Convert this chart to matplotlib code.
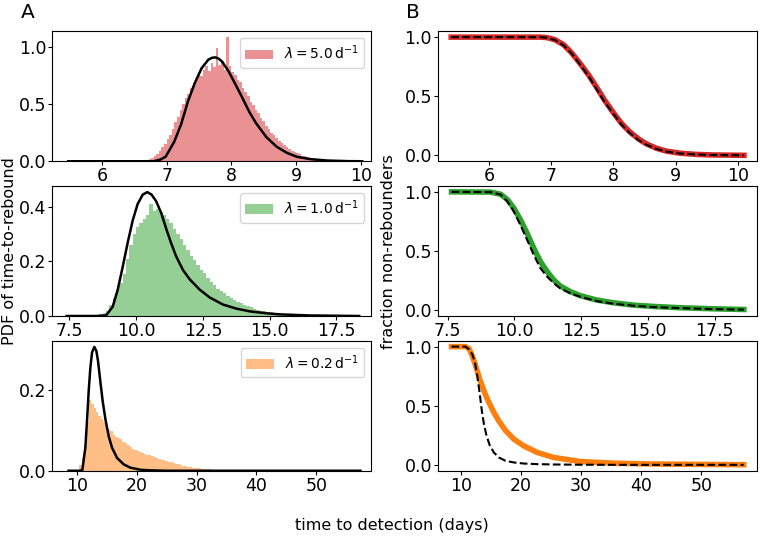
import matplotlib
matplotlib.use('Agg')
import matplotlib.pyplot as plt
import numpy as np

# --- data ---
rates = ['5.0', '1.0', '0.2']
colors = ['tab:red', 'tab:green', 'tab:orange']

# histograms (density), regular bins: start, width, heights
hist_a_start, hist_a_width = 6.60, 0.04
hist_a = [0.003, 0.006, 0.01, 0.018, 0.03, 0.045, 0.065, 0.09, 0.12, 0.15,
          0.19, 0.23, 0.28, 0.34, 0.39, 0.45, 0.50, 0.55, 0.59, 0.64,
          0.68, 0.71, 0.76, 0.74, 0.80, 0.83, 0.79, 0.86, 0.82, 0.99,
          0.84, 0.87, 0.80, 1.08, 0.83, 0.78, 0.75, 0.71, 0.69, 0.64,
          0.60, 0.57, 0.52, 0.49, 0.45, 0.42, 0.38, 0.35, 0.31, 0.28,
          0.25, 0.23, 0.20, 0.18, 0.16, 0.14, 0.12, 0.11, 0.09, 0.08,
          0.07, 0.06, 0.05, 0.045, 0.038, 0.03, 0.025, 0.02, 0.016, 0.013,
          0.01, 0.008, 0.007, 0.005, 0.004, 0.003, 0.002, 0.002, 0.001, 0.001]

hist_b_start, hist_b_width = 8.5, 0.125
hist_b = [0.003, 0.006, 0.01, 0.02, 0.04, 0.065, 0.09, 0.12, 0.155, 0.21,
          0.26, 0.30, 0.325, 0.34, 0.355, 0.37, 0.41, 0.385, 0.39, 0.38,
          0.37, 0.355, 0.34, 0.32, 0.30, 0.28, 0.26, 0.24, 0.22, 0.205,
          0.187, 0.17, 0.157, 0.14, 0.126, 0.113, 0.10, 0.09, 0.083, 0.074,
          0.065, 0.059, 0.053, 0.046, 0.04, 0.036, 0.032, 0.027, 0.022, 0.02,
          0.017, 0.015, 0.013, 0.011, 0.01, 0.009, 0.008, 0.007, 0.006, 0.005,
          0.005, 0.004, 0.004, 0.003, 0.003, 0.002, 0.002, 0.001]

hist_c_start, hist_c_width = 10.4, 0.4
hist_c = [0.015, 0.035, 0.065, 0.12, 0.175, 0.165, 0.155, 0.145, 0.137, 0.128,
          0.12, 0.113, 0.105, 0.098, 0.09, 0.084, 0.081, 0.078, 0.072, 0.068,
          0.065, 0.059, 0.055, 0.052, 0.049, 0.046, 0.043, 0.041, 0.04, 0.038,
          0.036, 0.033, 0.031, 0.029, 0.027, 0.026, 0.024, 0.022, 0.021, 0.019,
          0.017, 0.016, 0.014, 0.012, 0.011, 0.01, 0.009, 0.008, 0.007, 0.0065,
          0.006, 0.005, 0.0045, 0.004, 0.0035, 0.003, 0.0025, 0.002, 0.0015, 0.001]

# analytic PDF curves (black)
pdf_a_t = [5.48, 6.5, 6.80, 6.905, 6.985, 7.117, 7.222, 7.328, 7.433, 7.539, 7.644,
           7.70, 7.75, 7.80, 7.855, 7.961, 8.066, 8.172, 8.277, 8.383, 8.541, 8.70,
           8.858, 9.016, 9.227, 9.49, 9.8, 10.02]
pdf_a = [0, 0, 0, 0.015, 0.04, 0.17, 0.32, 0.52, 0.68, 0.81, 0.886,
         0.902, 0.906, 0.896, 0.87, 0.78, 0.667, 0.55, 0.43, 0.33, 0.21, 0.126,
         0.073, 0.038, 0.018, 0.006, 0.001, 0]

pdf_b_t = [7.40, 8.5, 8.875, 9.125, 9.31, 9.5, 9.69, 9.875, 10.06, 10.25, 10.42,
           10.58, 10.75, 10.94, 11.125, 11.31, 11.5, 11.75, 12.0, 12.375, 12.75,
           13.25, 13.75, 14.25, 14.875, 15.375, 16.5, 18.35]
pdf_b = [0, 0, 0.002, 0.034, 0.095, 0.18, 0.27, 0.35, 0.41, 0.444, 0.453,
         0.444, 0.42, 0.377, 0.32, 0.267, 0.218, 0.169, 0.135, 0.097, 0.068,
         0.042, 0.027, 0.017, 0.010, 0.006, 0.002, 0]

pdf_c_t = [8.6, 10.5, 10.9, 11.4, 11.68, 11.96, 12.24, 12.52, 12.9, 13.24,
           13.52, 13.9, 14.3, 14.76, 15.3, 15.87, 16.7, 17.8, 18.95, 20.6,
           22.3, 25.0, 57.4]
pdf_c = [0, 0, 0.002, 0.057, 0.124, 0.198, 0.256, 0.294, 0.308, 0.298,
         0.273, 0.223, 0.173, 0.128, 0.086, 0.057, 0.032, 0.016, 0.0075, 0.0025,
         0.001, 0, 0]

# survival curves: simulated (coloured) and analytic (dashed)
surv_a_t = [5.39, 6.82, 6.93, 7.06, 7.20, 7.33, 7.46, 7.60, 7.73, 7.86, 8.00,
            8.13, 8.26, 8.40, 8.53, 8.69, 8.85, 9.07, 9.33, 9.60, 10.10]
surv_a_sim = [1, 1, 0.996, 0.978, 0.935, 0.865, 0.78, 0.68, 0.575, 0.465, 0.36,
              0.27, 0.20, 0.14, 0.097, 0.06, 0.036, 0.018, 0.008, 0.003, 0]
surv_a_fit = [1, 1, 0.995, 0.975, 0.93, 0.86, 0.77, 0.67, 0.56, 0.45, 0.35,
              0.26, 0.19, 0.13, 0.09, 0.055, 0.032, 0.016, 0.007, 0.003, 0]

surv_b_t = [7.65, 9.11, 9.49, 9.74, 9.98, 10.23, 10.48, 10.73, 10.98, 11.23,
            11.48, 11.72, 12.1, 12.47, 13.09, 13.71, 14.46, 15.2, 16.2, 17.44, 18.6]
surv_b_sim = [1, 0.998, 0.98, 0.935, 0.864, 0.765, 0.65, 0.524, 0.41, 0.326,
              0.255, 0.204, 0.156, 0.122, 0.085, 0.062, 0.042, 0.031, 0.02, 0.011, 0.005]
surv_b_fit = [1, 0.998, 0.977, 0.92, 0.835, 0.72, 0.595, 0.467, 0.354, 0.283,
              0.227, 0.184, 0.142, 0.113, 0.076, 0.054, 0.037, 0.025, 0.017, 0.008, 0.004]

surv_c_t = [8.46, 10.8, 11.38, 11.93, 12.37, 12.76, 13.14, 13.48, 13.86, 14.3,
            14.86, 15.52, 16.35, 17.45, 18.83, 20.5, 22.7, 25.4, 29.86, 35.4,
            40.9, 46.4, 51.9, 57.06]
surv_c_sim = [1, 1, 0.983, 0.92, 0.855, 0.79, 0.725, 0.68, 0.625, 0.57,
              0.51, 0.442, 0.37, 0.29, 0.217, 0.16, 0.105, 0.063, 0.028, 0.014,
              0.008, 0.005, 0.003, 0.001]
surv_c_fit = [1, 1, 0.977, 0.935, 0.865, 0.752, 0.61, 0.47, 0.344, 0.245,
              0.16, 0.104, 0.062, 0.034, 0.02, 0.011, 0.006, 0.003, 0.001, 0,
              0, 0, 0, 0]

hists = [(hist_a_start, hist_a_width, hist_a),
         (hist_b_start, hist_b_width, hist_b),
         (hist_c_start, hist_c_width, hist_c)]
pdfs = [(pdf_a_t, pdf_a), (pdf_b_t, pdf_b), (pdf_c_t, pdf_c)]
survs = [(surv_a_t, surv_a_sim, surv_a_fit),
         (surv_b_t, surv_b_sim, surv_b_fit),
         (surv_c_t, surv_c_sim, surv_c_fit)]

xticks = [[6, 7, 8, 9, 10], [7.5, 10.0, 12.5, 15.0, 17.5], [10, 20, 30, 40, 50]]
left_xlim = [(5.236, 10.16), (6.87, 18.8), (5.9, 59.2)]
right_xlim = [(5.18, 10.31), (7.15, 19.09), (6.25, 59.27)]
left_yticks = [[0.0, 0.5, 1.0], [0.0, 0.2, 0.4], [0.0, 0.2]]

fig, axes = plt.subplots(3, 2, figsize=(7.6, 5.38), dpi=100)
plt.subplots_adjust(left=0.069, right=0.996, bottom=0.125, top=0.942,
                    wspace=0.21, hspace=0.19)

for i in range(3):
    ax_l = axes[i, 0]
    ax_r = axes[i, 1]

    # --- left: histogram + analytic pdf ---
    start, width, heights = hists[i]
    edges = start + width * np.arange(len(heights) + 1)
    centers = edges[:-1] + width / 2
    ax_l.hist(centers, bins=edges, weights=heights, color=colors[i], alpha=0.5,
              label=r'$\lambda = %s\,\mathrm{d}^{-1}$' % rates[i])
    ax_l.plot(pdfs[i][0], pdfs[i][1], color='black', lw=1.8)
    ax_l.set_xlim(*left_xlim[i])
    ax_l.set_xticks(xticks[i])
    ax_l.set_yticks(left_yticks[i])
    ax_l.legend(loc='upper right', fontsize=10)

    # --- right: survival curves ---
    t, sim, fit = survs[i]
    ax_r.plot(t, sim, color=colors[i], lw=4)
    ax_r.plot(t, fit, color='black', lw=1.5, ls='--')
    ax_r.set_xlim(*right_xlim[i])
    ax_r.set_ylim(-0.05, 1.05)
    ax_r.set_xticks(xticks[i])
    ax_r.set_yticks([0.0, 0.5, 1.0])

for ax in axes.flat:
    ax.tick_params(labelsize=12.5, length=3, pad=1.5)

fig.text(0.037, 0.977, 'A', fontsize=14.5, ha='center', va='center')
fig.text(0.543, 0.977, 'B', fontsize=14.5, ha='center', va='center')
fig.text(0.012, 0.533, 'PDF of time-to-rebound', rotation=90, fontsize=11.5,
         ha='center', va='center')
fig.text(0.511, 0.533, 'fraction non-rebounders', rotation=90, fontsize=11.5,
         ha='center', va='center')
fig.text(0.515, 0.024, 'time to detection (days)', fontsize=11.5,
         ha='center', va='center')

fig.savefig('out.png', dpi=100)
